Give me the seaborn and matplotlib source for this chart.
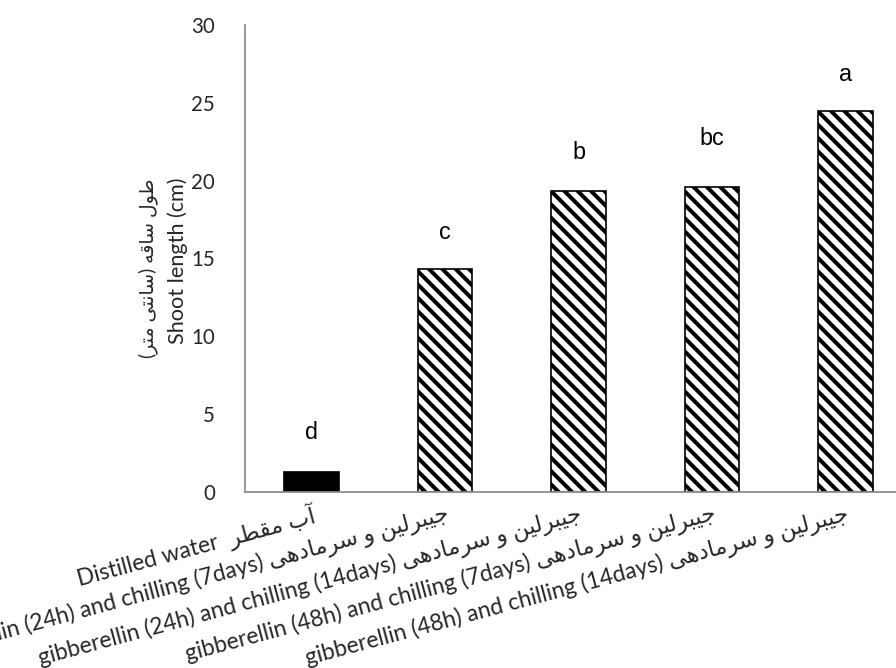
import matplotlib
matplotlib.use("Agg")
import matplotlib.pyplot as plt
import seaborn as sns
import pandas as pd

# ---- data ----
treatments = ["Distilled water", "GA24h+C7d", "GA24h+C14d", "GA48h+C7d", "GA48h+C14d"]
shoot_length = [1.3, 14.3, 19.35, 19.6, 24.45]
letters = ["d", "c", "b", "bc", "a"]
letter_y = [3.85, 16.7, 21.8, 22.7, 26.8]

# Persian text in visual (pre-shaped) order
fa_water = "\uFEAE\uFEC4\uFED8\uFEE3 \uFE8F\uFE81"
fa_gib = "\uFEF0\uFEEB\uFEA9\uFE8E\uFEE3\uFEAE\uFEB3 \uFEED \uFEE6\uFEF4\uFEDF\uFEAE\uFE92\uFEF4\uFE9F"
tick_labels = [
    "Distilled water  " + fa_water,
    "gibberellin (24h) and chilling (7days) " + fa_gib,
    "gibberellin (24h) and chilling (14days) " + fa_gib,
    "gibberellin (48h) and chilling (7days) " + fa_gib,
    "gibberellin (48h) and chilling (14days) " + fa_gib,
]
fa_ylabel = ("(\uFEAE\uFE98\uFEE3 \uFEF0\uFE98\uFEE7\uFE8E\uFEB3) "
             "\uFEEA\uFED7\uFE8E\uFEB3 \uFEDD\uFEEE\uFEC3")
en_ylabel = "Shoot length (cm)"
yticks = [0, 5, 10, 15, 20, 25, 30]

bar_colors = ["black", "white", "white", "white", "white"]

sns.set_style("white")
plt.rcParams["font.family"] = ["Lato", "DejaVu Sans"]
plt.rcParams["hatch.linewidth"] = 3.6
plt.rcParams["hatch.color"] = "black"

DPI = 80
fig = plt.figure(figsize=(896 / DPI, 668 / DPI), dpi=DPI)
ax = fig.add_axes([245 / 896, 176 / 668, 667 / 896, 467 / 668])

df = pd.DataFrame({"treatment": treatments, "length": shoot_length})
sns.barplot(data=df, x="treatment", y="length", hue="treatment",
            palette=bar_colors, legend=False, width=0.41,
            edgecolor="black", linewidth=1.5, ax=ax)

for i, p in enumerate(ax.patches):
    if i > 0:
        p.set_hatch("\\\\")

for i, (lt, ly) in enumerate(zip(letters, letter_y)):
    ax.text(i, ly, lt, ha="center", va="center", fontsize=21,
            family=["Liberation Sans"], color="black")

ax.set_ylim(0, 30)
ax.set_xlim(-0.5, 4.5)
ax.set_yticks(yticks)
ax.set_yticklabels([str(t) for t in yticks], fontsize=18.5)
ax.set_xticks(range(len(tick_labels)))
ax.set_xticklabels(tick_labels, rotation=15, ha="right",
                   rotation_mode="anchor", fontsize=20.5)
ax.tick_params(axis="y", length=0, pad=27)
ax.tick_params(axis="x", length=0, pad=9)
ax.set_xlabel("")
ax.set_ylabel("")

for s in ["top", "right"]:
    ax.spines[s].set_visible(False)
for s in ["left", "bottom"]:
    ax.spines[s].set_color("#8c8c8c")
    ax.spines[s].set_linewidth(1.6)

fig.text(148 / 896, 1 - 179 / 668, fa_ylabel, rotation=90,
         ha="center", va="top", fontsize=17)
fig.text(178 / 896, 1 - 177 / 668, en_ylabel, rotation=90,
         ha="center", va="top", fontsize=19.5)

fig.savefig("out.png", dpi=DPI)
